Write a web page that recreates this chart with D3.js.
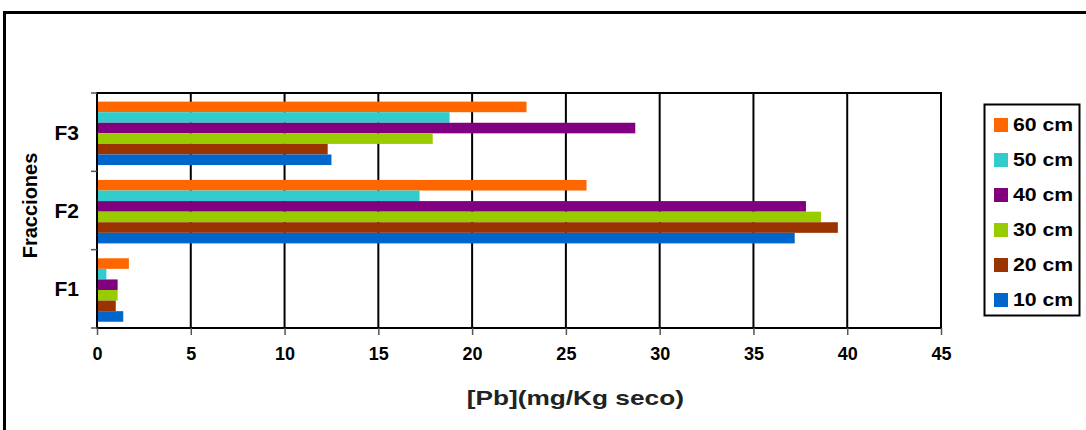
<!DOCTYPE html>
<html>
<head>
<meta charset="utf-8">
<script src="https://cdn.jsdelivr.net/npm/d3@7"></script>
<style>
  body { margin: 0; background: #fff; }
  text { font-family: "Liberation Sans", Arial, sans-serif; font-weight: bold; }
</style>
</head>
<body>
<svg id="chart"></svg>
<script>
// data
var categories = ['F3', 'F2', 'F1'];
var series_names = ['60 cm', '50 cm', '40 cm', '30 cm', '20 cm', '10 cm'];
var series_colors = ['#ff6600', '#33cccc', '#800080', '#99cc00', '#993300', '#0066cc'];
var values_f3 = [22.9, 18.8, 28.7, 17.9, 12.3, 12.5];
var values_f2 = [26.1, 17.2, 37.8, 38.6, 39.5, 37.2];
var values_f1 = [1.7, 0.5, 1.1, 1.1, 1.0, 1.4];
var x_ticks = [0, 5, 10, 15, 20, 25, 30, 35, 40, 45];

var svg_width = 1086,
  svg_height = 430,
  margin = { left: 97, top: 93, right: 145, bottom: 102 };
var plot_w = svg_width - margin.left - margin.right,
  plot_h = svg_height - margin.top - margin.bottom;

var rows = [values_f3, values_f2, values_f1].map(function(vals, i) {
  return { cat: categories[i], vals: vals };
});

var svg = d3.select('#chart').attr('width', svg_width).attr('height', svg_height);

// outer frame (runs off the right and bottom edges)
svg.append('rect')
  .attr('x', 4.5).attr('y', 12.5)
  .attr('width', 1200).attr('height', 600)
  .attr('fill', 'none').attr('stroke', '#000').attr('stroke-width', 3);

var g = svg.append('g').attr('transform', 'translate(' + margin.left + ',' + margin.top + ')');

var x = d3.scaleLinear().domain([0, 45]).range([0, plot_w]);
var y = d3.scaleBand().domain(categories).range([0, plot_h]);
var y_inner = d3.scaleBand().domain(series_names)
  .range([y.bandwidth() * 0.11, y.bandwidth() * 0.92]);

// gridlines
g.selectAll('.grid')
  .data(x_ticks.slice(1))
  .enter()
  .append('line')
  .attr('class', 'grid')
  .attr('x1', function(d) { return x(d); })
  .attr('x2', function(d) { return x(d); })
  .attr('y1', 0).attr('y2', plot_h)
  .attr('stroke', '#000').attr('stroke-width', 2);

// bars
var groups = g.selectAll('.cat')
  .data(rows)
  .enter()
  .append('g')
  .attr('class', 'cat')
  .attr('transform', function(d) { return 'translate(0,' + y(d.cat) + ')'; });

groups.selectAll('rect')
  .data(function(d) {
    return d.vals.map(function(v, i) { return { name: series_names[i], v: v, c: series_colors[i] }; });
  })
  .enter()
  .append('rect')
  .attr('x', x(0))
  .attr('y', function(d) { return y_inner(d.name); })
  .attr('width', function(d) { return x(d.v) - x(0); })
  .attr('height', y_inner.bandwidth())
  .attr('fill', function(d) { return d.c; });

// plot frame
g.append('rect')
  .attr('x', 0).attr('y', 0)
  .attr('width', plot_w).attr('height', plot_h)
  .attr('fill', 'none').attr('stroke', '#000').attr('stroke-width', 2);

// x axis
var x_axis = g.append('g')
  .attr('transform', 'translate(0,' + plot_h + ')')
  .call(d3.axisBottom(x).tickValues(x_ticks).tickSize(7).tickPadding(12));
x_axis.select('.domain').remove();
x_axis.selectAll('line').attr('stroke', '#555').attr('stroke-width', 1.5);
x_axis.selectAll('text').attr('font-size', 18).attr('fill', '#000')
  .style('font-family', '"Liberation Sans", Arial, sans-serif');

// y axis: ticks on band edges, labels in the middle
g.selectAll('.ytick')
  .data([0, 1, 2, 3])
  .enter()
  .append('line')
  .attr('x1', -6).attr('x2', 0)
  .attr('y1', function(d) { return d * y.step(); })
  .attr('y2', function(d) { return d * y.step(); })
  .attr('stroke', '#555').attr('stroke-width', 1.5);

g.selectAll('.ylabel')
  .data(categories)
  .enter()
  .append('text')
  .attr('x', -18)
  .attr('y', function(d) { return y(d) + y.bandwidth() / 2; })
  .attr('dy', '0.35em')
  .attr('text-anchor', 'end')
  .attr('font-size', 21)
  .text(function(d) { return d; });

// axis titles (the original lettering is a little wider than Arial)
svg.append('text')
  .attr('transform', 'translate(' + (margin.left + x(25.5)) + ',405) scale(1.25,1)')
  .attr('text-anchor', 'middle')
  .attr('font-size', 21)
  .attr('fill', '#222')
  .text('[Pb](mg/Kg seco)');

svg.append('text')
  .attr('transform', 'translate(37,' + (margin.top + plot_h / 2 - 5) + ') rotate(-90)')
  .attr('text-anchor', 'middle')
  .attr('font-size', 20)
  .text('Fracciones');

// legend
var legend = svg.append('g').attr('transform', 'translate(984,104)');
legend.append('rect')
  .attr('x', 0.5).attr('y', 0.5)
  .attr('width', 95).attr('height', 211)
  .attr('fill', '#fff').attr('stroke', '#000').attr('stroke-width', 2);

var items = legend.selectAll('.item')
  .data(series_names)
  .enter()
  .append('g')
  .attr('class', 'item')
  .attr('transform', function(d, i) { return 'translate(10,' + (21 + i * 35) + ')'; });
items.append('rect')
  .attr('x', 0).attr('y', -7)
  .attr('width', 14).attr('height', 14)
  .attr('fill', function(d, i) { return series_colors[i]; });
items.append('text')
  .attr('transform', 'translate(19,0) scale(1.18,1)')
  .attr('dy', '0.35em')
  .attr('font-size', 18)
  .text(function(d) { return d; });
</script>
</body>
</html>
